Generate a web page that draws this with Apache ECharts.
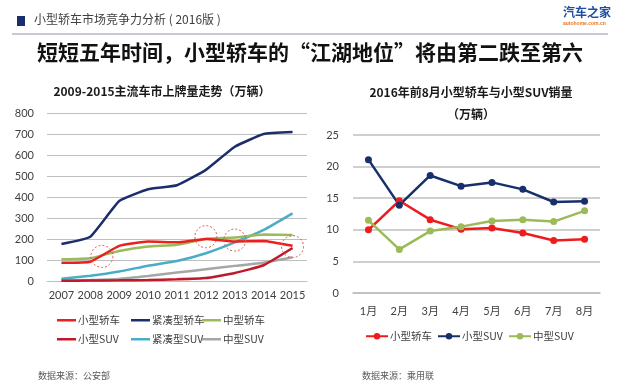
<!DOCTYPE html>
<html><head><meta charset="utf-8">
<script src="https://cdn.jsdelivr.net/npm/echarts@6/dist/echarts.min.js"></script>
<style>html,body{margin:0;padding:0;background:#fff}#c{width:620px;height:385px}</style>
</head><body><div id="c"></div>
<script>
// ---- data ----
var years = ['2007','2008','2009','2010','2011','2012','2013','2014','2015'];
var smallSedan   = [87, 92, 167, 188, 184, 200, 188, 191, 168];
var compactSedan = [176, 211, 381, 437, 456, 529, 639, 700, 709];
var midSedan     = [103, 108, 143, 164, 173, 200, 207, 222, 219];
var smallSUV     = [1, 2, 3, 5, 8, 14, 38, 75, 157];
var compactSUV   = [11, 25, 45, 73, 95, 132, 184, 243, 322];
var midSUV       = [2, 5, 10, 24, 40, 56, 72, 87, 113];

var months = ['1月','2月','3月','4月','5月','6月','7月','8月'];
var m_smallSedan = [10.0, 14.6, 11.6, 10.1, 10.3, 9.5, 8.3, 8.5];
var m_smallSUV   = [21.1, 13.9, 18.6, 16.9, 17.5, 16.4, 14.4, 14.5];
var m_midSUV     = [11.5, 6.9, 9.8, 10.5, 11.4, 11.6, 11.3, 13.0];

// annotation circles (category index with fraction, value)
var circleIdx = [1.4, 5, 6, 8];
var circleVal = [117, 211, 195, 164];

var FONT = "Lato, 'Noto Sans CJK SC', sans-serif";
var CJK = "'Noto Sans CJK SC', sans-serif";
var chart = echarts.init(document.getElementById('c'));

function lineS(name, data, color, x, y, extra){
  var s = {name:name, type:'line', data:data, xAxisIndex:x, yAxisIndex:y,
    lineStyle:{color:color, width:2.5}, itemStyle:{color:color}};
  for (var k in extra) s[k]=extra[k];
  return s;
}
var leftOpt = {symbol:'none', smooth:0.12};
var rightOpt = {symbol:'circle', symbolSize:7, smooth:false};

var axisLbl = {color:'#404040', fontSize:11, fontFamily:FONT};
var legTxt = {fontSize:10.5, color:'#404040', fontFamily:CJK, padding:[0,0,0,-3]};
function leg(name, left, top, isLeft){
  var o = {data:[name], left:left, top:top, itemWidth:isLeft?19:22, itemHeight:isLeft?2.5:8, textStyle:legTxt};
  if (isLeft) o.icon = 'rect';
  return o;
}
chart.setOption({
  animation:false,
  textStyle:{fontFamily:FONT},
  title:[
    {text:'2009-2015主流车市上牌量走势（万辆）', left:157, top:80, textAlign:'center',
     textStyle:{fontSize:12, fontWeight:'bold', color:'#1a1a1a', fontFamily:CJK}},
    {text:'2016年前8月小型轿车与小型SUV销量\n（万辆）', left:466, top:76, textAlign:'center',
     textStyle:{fontSize:12, fontWeight:'bold', color:'#1a1a1a', fontFamily:CJK, lineHeight:22}}
  ],
  grid:[
    {left:47, right:313, top:113, bottom:104},
    {left:353, right:20, top:135, bottom:92}
  ],
  xAxis:[
    {type:'category', data:years, gridIndex:0, boundaryGap:true,
     axisLine:{lineStyle:{color:'#bfbfbf'}}, axisTick:{show:false},
     axisLabel:Object.assign({margin:9, interval:0}, axisLbl)},
    {type:'category', data:months, gridIndex:1, boundaryGap:true,
     axisLine:{lineStyle:{color:'#bfbfbf', width:1.5}}, axisTick:{show:false},
     axisLabel:Object.assign({margin:13, interval:0}, axisLbl)}
  ],
  yAxis:[
    {type:'value', gridIndex:0, min:0, max:800, interval:100,
     axisLine:{show:false}, axisTick:{show:false},
     splitLine:{lineStyle:{color:'#bfbfbf'}}, axisLabel:Object.assign({margin:13}, axisLbl)},
    {type:'value', gridIndex:1, min:0, max:25, interval:5,
     axisLine:{show:false}, axisTick:{show:false},
     splitLine:{lineStyle:{color:'#bfbfbf', width:1.5}}, axisLabel:Object.assign({margin:14}, axisLbl)}
  ],
  legend:[
    leg('小型轿车', 52, 310, true), leg('紧凑型轿车', 126, 310, true), leg('中型轿车', 197, 310, true),
    leg('小型SUV', 52, 329, true), leg('紧凑型SUV', 126, 329, true), leg('中型SUV', 197, 329, true),
    leg('小型轿车 ', 360, 326, false), leg('小型SUV ', 432, 326, false), leg('中型SUV ', 503, 326, false)
  ],
  series:[
    lineS('中型SUV', midSUV, '#a6a6a6', 0, 0, leftOpt),
    lineS('紧凑型SUV', compactSUV, '#4bacc6', 0, 0, leftOpt),
    lineS('中型轿车', midSedan, '#9bbb59', 0, 0, leftOpt),
    lineS('小型SUV', smallSUV, '#c0192a', 0, 0, leftOpt),
    lineS('小型轿车', smallSedan, '#e8201f', 0, 0, leftOpt),
    lineS('紧凑型轿车', compactSedan, '#1b2e6b', 0, 0, leftOpt),
    lineS('小型轿车 ', m_smallSedan, '#ee1c1c', 1, 1, rightOpt),
    lineS('小型SUV ', m_smallSUV, '#172f6a', 1, 1, rightOpt),
    lineS('中型SUV ', m_midSUV, '#9bbb59', 1, 1, rightOpt)
  ]
});

// annotation circles via the axis scales
var circles = circleIdx.map(function(ci, i){
  var i0 = Math.floor(ci), f = ci - i0;
  var p0 = chart.convertToPixel({gridIndex:0}, [years[i0], circleVal[i]]);
  var p1 = chart.convertToPixel({gridIndex:0}, [years[Math.min(i0+1, years.length-1)], circleVal[i]]);
  return {type:'circle', shape:{cx:p0[0]+(p1[0]-p0[0])*f, cy:p0[1], r:11},
    style:{fill:'none', stroke:'#d9534f', lineWidth:1, lineDash:[2,2]}, z:100};
});

chart.setOption({
  graphic:[
    {type:'rect', shape:{x:17, y:16, width:8, height:10}, style:{fill:'#17306b'}},
    {type:'text', left:34, top:13, style:{text:'小型轿车市场竞争力分析 ( 2016版 )', font:"12px 'Noto Sans CJK SC'", fill:'#404040'}},
    {type:'line', shape:{x1:12, y1:34, x2:608, y2:34}, style:{stroke:'#c5cad3', lineWidth:2}},
    {type:'text', left:563, top:6, style:{text:'汽车之家', font:"bold 12px 'Noto Sans CJK SC'", fill:'#1e4fa0'}},
    {type:'text', left:563, top:21, style:{text:'autohome.com.cn', font:"bold 5px sans-serif", fill:'#e8771f'}},
    {type:'text', x:310, y:42, style:{text:'短短五年时间，小型轿车的“江湖地位”将由第二跌至第六', font:"bold 21px 'Noto Sans CJK SC'", fill:'#111', textAlign:'center'}},
    {type:'text', left:38, top:371, style:{text:'数据来源：公安部', font:"9px 'Noto Sans CJK SC'", fill:'#595959'}},
    {type:'text', left:362, top:371, style:{text:'数据来源：乘用联', font:"9px 'Noto Sans CJK SC'", fill:'#595959'}}
  ].concat(circles)
});
</script></body></html>
